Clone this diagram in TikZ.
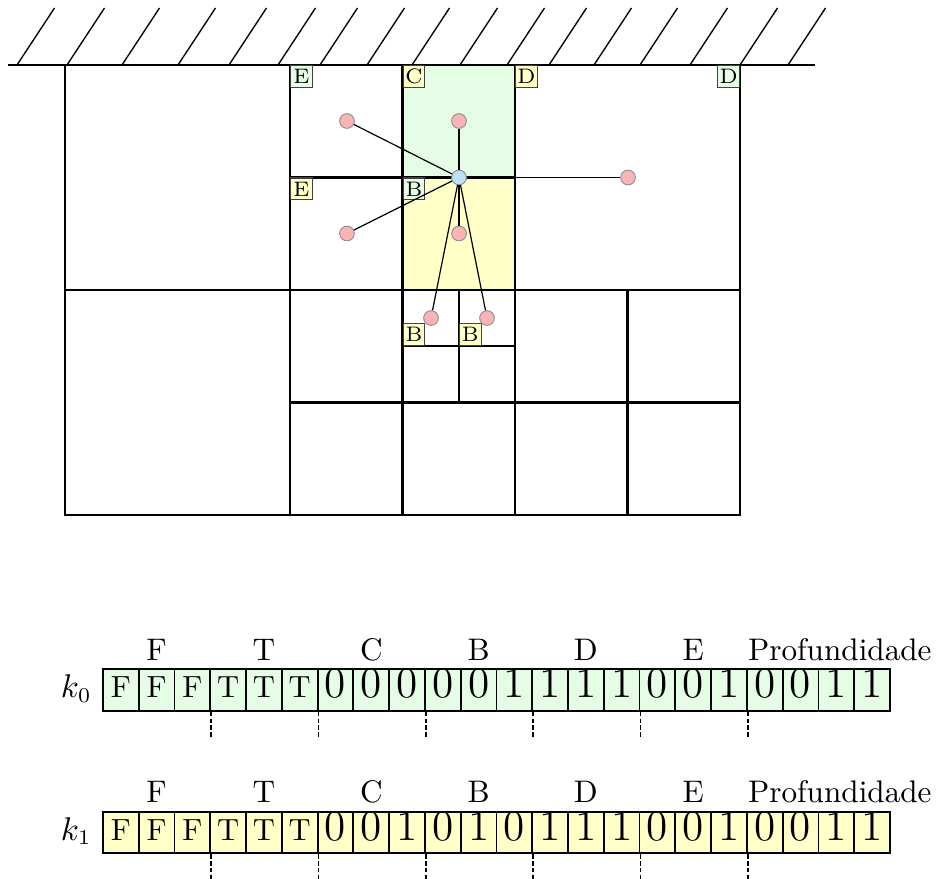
\documentclass[tikz,border=0pt]{standalone}
\usetikzlibrary{calc}
\definecolor{cellgreen}{RGB}{229,252,229}
\definecolor{cellyellow}{RGB}{255,255,200}
\definecolor{ptpink}{RGB}{250,180,182}
\definecolor{ptblue}{RGB}{188,226,250}
\begin{document}
\begin{tikzpicture}[x=0.3333pt,y=-0.3333pt,
  ground/.style={line width=0.8pt},
  hatch/.style={line width=0.45pt},
  grid/.style={line width=0.75pt},
  subgrid/.style={line width=0.7pt},
  tag/.style={draw=black!75, line width=0.35pt, inner sep=0pt, minimum size=7.3pt,
    font=\fontsize{7}{8}\selectfont},
  taggreen/.style={tag, fill=cellgreen},
  tagyellow/.style={tag, fill=cellyellow},
  pt/.style={circle, draw=black!45, line width=0.3pt, fill=ptpink, inner sep=0pt, minimum size=4.9pt},
  link/.style={line width=0.4pt},
  bit/.style={draw, line width=0.6pt, minimum width=11.92pt, minimum height=13.8pt,
    inner sep=0pt, text height=5.5pt, text depth=0.5pt},
  bitletter/.style={bit, font=\fontsize{10.2}{12}\selectfont},
  bitdigit/.style={bit, font=\fontsize{14.4}{17}\selectfont},
  sep/.style={line width=0.55pt, dash pattern=on 1.5pt off 0.8pt},
  grouplabel/.style={anchor=base, inner sep=0pt, font=\fontsize{10.4}{12}\selectfont},
  keylabel/.style={anchor=base east, font=\fontsize{10.6}{12}\selectfont},
]
\useasboundingbox (0,0) rectangle (936,879);

% ground with hatching
\draw[ground] (8,65) -- (815,65);
\foreach \x in {17,67,122,178,229,278,320,367,412,460,507,549,594,640,690,740,788}
  \draw[hatch] (\x,65) -- ++(37.5,-57);

% highlighted cells
\fill[cellgreen] (402.5,65) rectangle (515,177.5);
\fill[cellyellow] (402.5,177.5) rectangle (515,290);

% quadtree cells
\draw[grid] (65,65) rectangle (740,515);
\draw[grid] (290,65) -- (290,515);
\draw[grid] (515,65) -- (515,515);
\draw[grid] (65,290) -- (740,290);
\draw[subgrid] (402.5,65) -- (402.5,515);
\draw[subgrid] (290,177.5) -- (515,177.5);
\draw[subgrid] (627.5,290) -- (627.5,515);
\draw[subgrid] (290,402.5) -- (740,402.5);
\draw[subgrid] (458.75,290) -- (458.75,402.5);
\draw[subgrid] (402.5,346.25) -- (515,346.25);

% cell tags
\node[taggreen, anchor=north west] (tagE1) at (290,65) {E};
\node[tagyellow, anchor=north west] (tagC) at (402.5,65) {C};
\node[tagyellow, anchor=north west] (tagD1) at (515,65) {D};
\node[taggreen, anchor=north east] (tagD2) at (740,65) {D};
\node[tagyellow, anchor=north west] (tagE2) at (290,177.5) {E};
\node[taggreen, anchor=north west] (tagB1) at (402.5,177.5) {B};
\node[tagyellow, anchor=south west] (tagB2) at (402.5,346.25) {B};
\node[tagyellow, anchor=south west] (tagB3) at (458.75,346.25) {B};

% query point and its neighbours
\node[pt, fill=ptblue] (q) at (459,177.5) {};
\node[pt] (p1) at (347,121) {};
\node[pt] (p2) at (459,121) {};
\node[pt] (p3) at (628,177.5) {};
\node[pt] (p4) at (347,233.5) {};
\node[pt] (p5) at (459,233.5) {};
\node[pt] (p6) at (431,318) {};
\node[pt] (p7) at (487,318) {};
\foreach \p in {p1,p2,p3,p4,p5,p6,p7}
  \draw[link] (q) -- (\p);

% key k0
\foreach \v [count=\i from 0] in {F,F,F,T,T,T}
  \node[bitletter, fill=cellgreen] (k0c\i) at ({103+(\i+0.5)*35.77},690) {\v};
\foreach \v [count=\i from 6] in {0,0,0,0,0,1,1,1,1,0,0,1,0,0,1,1}
  \node[bitdigit, fill=cellgreen] (k0c\i) at ({103+(\i+0.5)*35.77},690) {\v};
\node[keylabel] (k0lab) at ($(k0c0.west)+(0,7.5)$) {$k_0$};
\foreach \i in {2,5,8,11,14,17}
  \draw[sep] (k0c\i.south east) -- ++(0,27);
\foreach \t/\i in {F/1,T/4,C/7,B/10,D/13,E/16}
  \node[grouplabel] (k0g\i) at ($(k0c\i.north)+(0,-8)$) {\t};
\node[grouplabel, anchor=base west] (k0depth) at ($(k0c18.north west)+(1.5,-8)$) {Profundidade};

% key k1
\foreach \v [count=\i from 0] in {F,F,F,T,T,T}
  \node[bitletter, fill=cellyellow] (k1c\i) at ({103+(\i+0.5)*35.77},832.5) {\v};
\foreach \v [count=\i from 6] in {0,0,1,0,1,0,1,1,1,0,0,1,0,0,1,1}
  \node[bitdigit, fill=cellyellow] (k1c\i) at ({103+(\i+0.5)*35.77},832.5) {\v};
\node[keylabel] (k1lab) at ($(k1c0.west)+(0,7.5)$) {$k_1$};
\foreach \i in {2,5,8,11,14,17}
  \draw[sep] (k1c\i.south east) -- ++(0,30);
\foreach \t/\i in {F/1,T/4,C/7,B/10,D/13,E/16}
  \node[grouplabel] (k1g\i) at ($(k1c\i.north)+(0,-8)$) {\t};
\node[grouplabel, anchor=base west] (k1depth) at ($(k1c18.north west)+(1.5,-8)$) {Profundidade};
\end{tikzpicture}
\end{document}
